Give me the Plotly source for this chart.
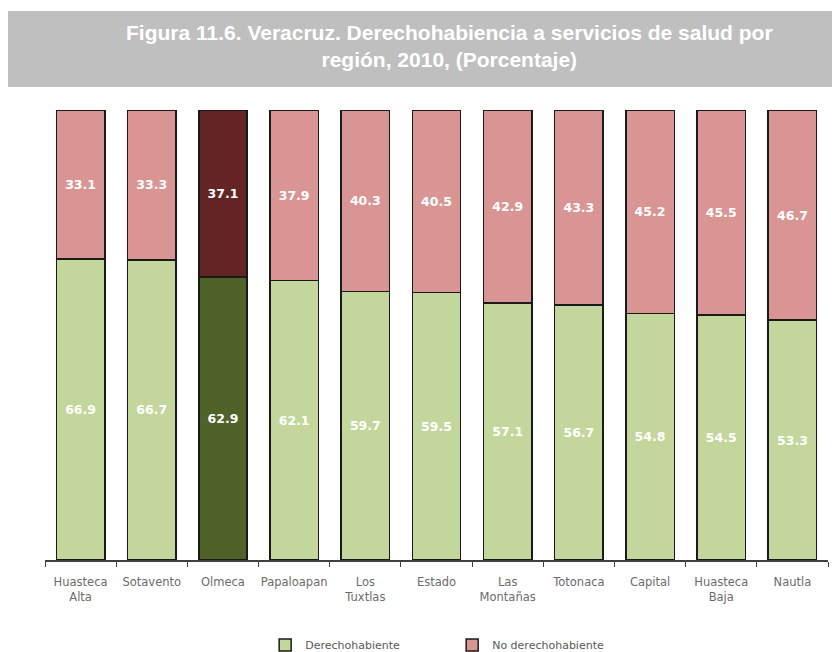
import plotly.graph_objects as go

regiones = ["Huasteca<br>Alta", "Sotavento", "Olmeca", "Papaloapan", "Los<br>Tuxtlas",
            "Estado", "Las<br>Montañas", "Totonaca", "Capital", "Huasteca<br>Baja", "Nautla"]
derechohabiente = [66.9, 66.7, 62.9, 62.1, 59.7, 59.5, 57.1, 56.7, 54.8, 54.5, 53.3]
no_derechohabiente = [33.1, 33.3, 37.1, 37.9, 40.3, 40.5, 42.9, 43.3, 45.2, 45.5, 46.7]

# Olmeca va resaltada con tonos oscuros
verde = ["#4F6228" if r == "Olmeca" else "#C3D69B" for r in regiones]
rosa = ["#632523" if r == "Olmeca" else "#D99594" for r in regiones]

etiqueta = dict(family="DejaVu Sans", size=12.5, color="white", weight="bold")

fig = go.Figure()
fig.add_trace(go.Bar(
    x=regiones, y=derechohabiente, name="Derechohabiente",
    marker=dict(color=verde, line=dict(color="#1a1a1a", width=1.5)),
    text=[f"{v:.1f}" for v in derechohabiente], textposition="inside",
    insidetextanchor="middle", textfont=etiqueta,
))
fig.add_trace(go.Bar(
    x=regiones, y=no_derechohabiente, name="No derechohabiente",
    marker=dict(color=rosa, line=dict(color="#1a1a1a", width=1.5)),
    text=[f"{v:.1f}" for v in no_derechohabiente], textposition="inside",
    insidetextanchor="middle", textfont=etiqueta,
))

# banda gris del titulo
fig.add_shape(type="rect", xref="paper", yref="paper",
              x0=-0.0524, x1=1.04, y0=1.051, y1=1.22,
              fillcolor="#BFBFBF", line=dict(width=0), layer="below")
fig.add_annotation(
    text="Figura 11.6. Veracruz. Derechohabiencia a servicios de salud por<br>región, 2010, (Porcentaje)",
    xref="paper", yref="paper", x=0.516, y=1.142, xanchor="center", yanchor="middle",
    showarrow=False,
    font=dict(family="Liberation Sans, Arial", size=21, color="white", weight="bold"),
    align="center",
)

fig.update_layout(
    barmode="stack",
    bargap=0.32,
    width=840, height=652,
    margin=dict(l=37, r=20, t=102, b=100, autoexpand=False),
    plot_bgcolor="white", paper_bgcolor="white",
    showlegend=True,
    legend=dict(orientation="h", x=0.52, xanchor="center", y=-0.189, yanchor="middle",
                font=dict(family="DejaVu Sans", size=11, color="#595959"),
                traceorder="normal", entrywidth=142),
    uniformtext=dict(mode="show", minsize=8),
)
fig.update_xaxes(showline=True, linecolor="#404040", linewidth=1.5,
                 ticks="outside", ticklen=5, tickcolor="#404040",
                 tickson="boundaries", tickangle=0, automargin=False,
                 ticklabelstandoff=10,
                 tickfont=dict(family="DejaVu Sans", size=11.5, color="#6b6b6b"))
fig.update_yaxes(range=[0, 100], visible=False, showgrid=False, automargin=False)

fig.write_html("out.html")
